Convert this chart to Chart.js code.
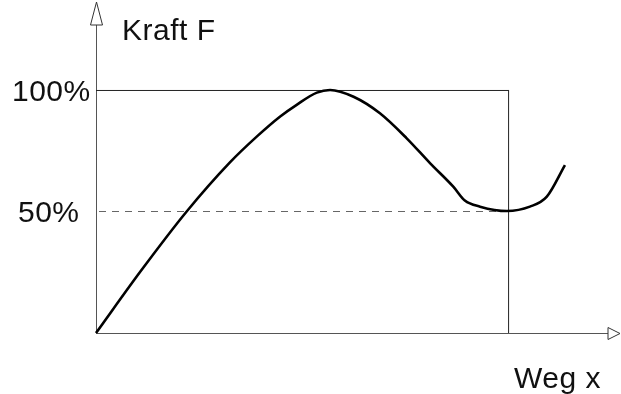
<!DOCTYPE html>
<html lang="de">
<head>
  <meta charset="UTF-8" />
  <title>Kraft-Weg-Kennlinie</title>
  <script src="https://cdn.jsdelivr.net/npm/chart.js"></script>
  <style>
    body { margin: 0; background: #fff; }
    #wrap { position: relative; width: 621px; height: 394px; }
  </style>
</head>
<body>
<div id="wrap"><canvas id="kennlinie"></canvas></div>

<script>
// Weg x in % der Boxbreite, Kraft F in % von Fmax
const wegX = [0, 11, 22, 32.5, 39, 44.7, 48.7, 53.6, 56.8, 62.5, 68.9, 75.4, 81.1, 86.7, 89.5, 93.2, 99.7, 105.3, 109.4, 113.8];
const kraftF = [0, 25.8, 50.0, 70.2, 80.8, 89.1, 93.9, 98.9, 100, 97.2, 90.4, 80.1, 69.8, 60.2, 54.5, 52.0, 50.2, 52.0, 56.1, 69.1];
const yTicks = [100, 50];
const yTickLabels = ['100%', '50%'];
const boxRight = 100;
const yTitle = 'Kraft F';
const xTitle = 'Weg x';

const font = '30px "Liberation Sans", Arial, sans-serif';

const diagram = {
  id: 'diagram',
  beforeDatasetsDraw(chart) {
    const { ctx, scales: { x, y } } = chart;
    const x0 = x.getPixelForValue(0), y0 = y.getPixelForValue(0);
    const xr = x.getPixelForValue(boxRight), yTop = y.getPixelForValue(100);
    const xEnd = chart.chartArea.right, yEnd = chart.chartArea.top;
    ctx.save();

    // Achsen
    ctx.strokeStyle = '#555';
    ctx.lineWidth = 1;
    ctx.beginPath();
    ctx.moveTo(x0 + 0.5, y0); ctx.lineTo(x0 + 0.5, yEnd + 23);
    ctx.moveTo(x0, y0 + 0.5); ctx.lineTo(xEnd - 13, y0 + 0.5);
    ctx.stroke();

    // Pfeile (hohl)
    ctx.strokeStyle = '#333';
    ctx.beginPath();
    ctx.moveTo(x0 + 0.5, yEnd); ctx.lineTo(x0 - 5.5, yEnd + 23); ctx.lineTo(x0 + 6.5, yEnd + 23); ctx.closePath();
    ctx.moveTo(xEnd - 1, y0 + 0.5); ctx.lineTo(xEnd - 13, y0 - 5.5); ctx.lineTo(xEnd - 13, y0 + 6.5); ctx.closePath();
    ctx.stroke();

    // Box bei 100 %
    ctx.strokeStyle = '#222';
    ctx.beginPath();
    ctx.moveTo(x0, yTop + 0.5); ctx.lineTo(xr + 0.5, yTop + 0.5);
    ctx.moveTo(xr + 0.5, yTop); ctx.lineTo(xr + 0.5, y0);
    ctx.stroke();

    // 50 % gestrichelt
    const y50 = Math.round(y.getPixelForValue(50)) + 0.5;
    ctx.strokeStyle = '#666';
    ctx.setLineDash([7, 6]);
    ctx.beginPath();
    ctx.moveTo(x0 + 3, y50); ctx.lineTo(xr, y50);
    ctx.stroke();
    ctx.setLineDash([]);

    // Beschriftung
    ctx.fillStyle = '#111';
    ctx.font = font;
    ctx.letterSpacing = '0.5px';
    ctx.textBaseline = 'alphabetic';
    ctx.textAlign = 'left';
    yTicks.forEach((v, i) => {
      const left = v === 100 ? 12 : 18;
      ctx.fillText(yTickLabels[i], left, y.getPixelForValue(v) + 11);
    });
    ctx.fillText(yTitle, x0 + 26, 40);
    ctx.fillText(xTitle, 514, 388);
    ctx.restore();
  }
};

new Chart(document.getElementById('kennlinie'), {
  type: 'scatter',
  data: {
    datasets: [{
      data: wegX.map((v, i) => ({ x: v, y: kraftF[i] })),
      showLine: true,
      borderColor: '#000',
      borderWidth: 2.6,
      pointRadius: 0,
      cubicInterpolationMode: 'monotone',
      clip: false
    }]
  },
  options: {
    responsive: true,
    maintainAspectRatio: false,
    animation: false,
    layout: { padding: { left: 96, top: 2, right: 0, bottom: 61 } },
    plugins: { legend: { display: false }, tooltip: { enabled: false } },
    scales: {
      x: { type: 'linear', display: false, min: 0, max: 127.4 },
      y: { type: 'linear', display: false, min: 0, max: 136.2 }
    }
  },
  plugins: [diagram]
});
</script>
</body>
</html>
